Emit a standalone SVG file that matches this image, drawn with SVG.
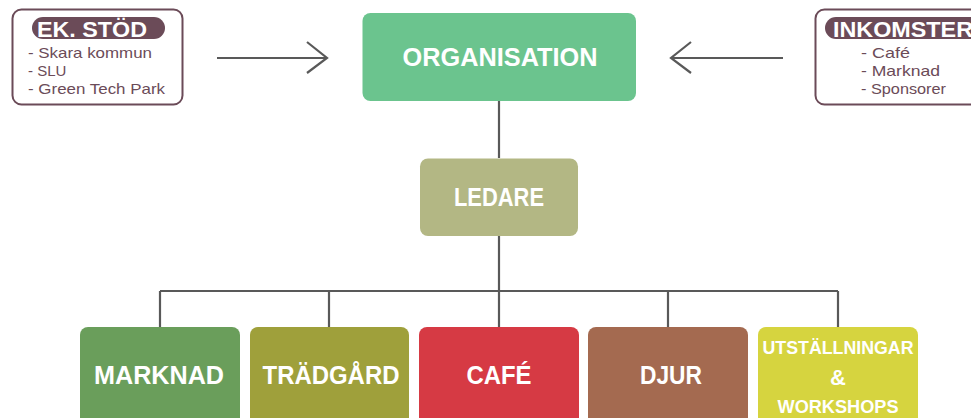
<svg xmlns="http://www.w3.org/2000/svg" width="971" height="418" viewBox="0 0 971 418">
<style>
.line{stroke:#595959;stroke-width:2.2;fill:none}
.frame{fill:#fff;stroke:#6b4b58;stroke-width:2}
.pill{fill:#6b4b58}
.ttl{font-family:"Liberation Sans",Arial,sans-serif;font-weight:bold;fill:#fff;font-size:22px}
.item{font-family:"Liberation Sans",Arial,sans-serif;fill:#6b4b58;font-size:15px}
.lbl{font-family:"Liberation Sans",Arial,sans-serif;font-weight:bold;fill:#fff;font-size:25px;text-anchor:middle}
.small{font-size:19px}
</style>
<rect width="971" height="418" fill="#fff"/>
<g id="connectors">
<path class="line" d="M217 58H327M307 42L327 58L307 73"/>
<path class="line" d="M783 58H671M691 42L671 58L691 73"/>
<path class="line" d="M499 101V158M499 236V291M160 291H838M160 291V327M329 291V327M499 291V327M668 291V327M838 291V327"/>
</g>
<g id="ek-stod">
<rect class="frame" x="12.5" y="9.5" width="170" height="95" rx="9"/>
<rect class="pill" x="32" y="17" width="133" height="22" rx="11"/>
<text class="ttl" x="37" y="36.5" textLength="110" lengthAdjust="spacingAndGlyphs">EK. STÖD</text>
<text class="item" x="28" y="58" textLength="124" lengthAdjust="spacingAndGlyphs">- Skara kommun</text>
<text class="item" x="28" y="76">- SLU</text>
<text class="item" x="28" y="94" textLength="137" lengthAdjust="spacingAndGlyphs">- Green Tech Park</text>
</g>
<g id="inkomster">
<rect class="frame" x="815.5" y="9.5" width="170" height="95" rx="9"/>
<rect class="pill" x="825" y="17" width="170" height="22" rx="11"/>
<text class="ttl" x="833" y="36.5" textLength="140" lengthAdjust="spacingAndGlyphs">INKOMSTER</text>
<text class="item" x="861" y="58" textLength="49" lengthAdjust="spacingAndGlyphs">- Café</text>
<text class="item" x="861" y="76" textLength="79" lengthAdjust="spacingAndGlyphs">- Marknad</text>
<text class="item" x="861" y="94" textLength="85" lengthAdjust="spacingAndGlyphs">- Sponsorer</text>
</g>
<g id="organisation">
<rect x="362.5" y="13" width="273.5" height="88" rx="8" fill="#6bc48e"/>
<text class="lbl" x="500" y="66" textLength="195" lengthAdjust="spacingAndGlyphs">ORGANISATION</text>
</g>
<g id="ledare">
<rect x="420" y="158.5" width="158" height="77.5" rx="8" fill="#b3b784"/>
<text class="lbl" x="499" y="206" textLength="90" lengthAdjust="spacingAndGlyphs">LEDARE</text>
</g>
<g id="marknad">
<rect x="80" y="327" width="160" height="100" rx="8" fill="#6a9e5b"/>
<text class="lbl" x="159" y="384" textLength="130" lengthAdjust="spacingAndGlyphs">MARKNAD</text>
</g>
<g id="tradgard">
<rect x="250" y="327" width="159" height="100" rx="8" fill="#9fa03b"/>
<text class="lbl" x="331" y="384" textLength="137" lengthAdjust="spacingAndGlyphs">TRÄDGÅRD</text>
</g>
<g id="cafe">
<rect x="419" y="327" width="160" height="100" rx="8" fill="#d63a44"/>
<text class="lbl" x="499" y="384" textLength="65" lengthAdjust="spacingAndGlyphs">CAFÉ</text>
</g>
<g id="djur">
<rect x="588" y="327" width="160" height="100" rx="8" fill="#a46a50"/>
<text class="lbl" x="671" y="384" textLength="62" lengthAdjust="spacingAndGlyphs">DJUR</text>
</g>
<g id="utstallningar">
<rect x="758" y="327" width="160" height="100" rx="8" fill="#d6d43f"/>
<text class="lbl small" x="838" y="354" textLength="151" lengthAdjust="spacingAndGlyphs">UTSTÄLLNINGAR</text>
<text class="lbl" x="838" y="385" style="font-size:22px">&amp;</text>
<text class="lbl small" x="838" y="413" textLength="121" lengthAdjust="spacingAndGlyphs">WORKSHOPS</text>
</g>
</svg>
